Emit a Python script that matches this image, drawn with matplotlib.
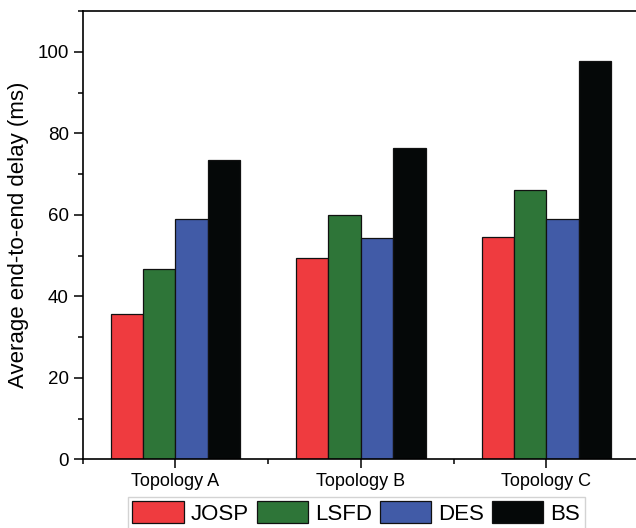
import matplotlib
matplotlib.use("Agg")
import matplotlib.pyplot as plt
import numpy as np

plt.rcParams['font.family'] = ['Liberation Sans', 'DejaVu Sans']

categories = ["Topology A", "Topology B", "Topology C"]
series_names = ["JOSP", "LSFD", "DES", "BS"]
josp = [35.6, 49.4, 54.5]
lsfd = [46.7, 60.0, 66.2]
des = [59.0, 54.3, 59.0]
bs = [73.5, 76.5, 97.7]
colors = ["#EF3B3F", "#2E7538", "#415BA7", "#050808"]

W, H = 636, 528
fig = plt.figure(figsize=(W/100, H/100), dpi=100)
unit_px = 185.5
left_px, top_px, bot_px = 82.7, 11, 459.3
right_px = left_px + 3 * unit_px
ax = fig.add_axes([left_px/W, 1-bot_px/H, (right_px-left_px)/W, (bot_px-top_px)/H])

x = np.arange(len(categories))
bw = 0.175
data = [josp, lsfd, des, bs]
for i, (name, vals, c) in enumerate(zip(series_names, data, colors)):
    ax.bar(x + (i-1.5)*bw, vals, bw, color=c, edgecolor='#111111', linewidth=0.9, label=name)

ax.set_xlim(-0.5, 2.5)
ax.set_ylim(0, 110)
ax.set_xticks(x)
ax.set_xticklabels(categories, fontsize=13)
ax.set_xticks([-0.5, 0.5, 1.5], minor=True)
ax.set_yticks(np.arange(0, 101, 20))
ax.set_yticks(np.arange(10, 111, 20), minor=True)
ax.tick_params(axis='both', which='major', direction='out', length=6.5, width=1.1, pad=3.5)
ax.tick_params(axis='x', which='major', labelsize=13)
ax.tick_params(axis='y', which='major', labelsize=13.5)
ax.tick_params(axis='both', which='minor', direction='out', length=3.5, width=1.1)
ax.spines['right'].set_visible(False)
for s in ['left', 'top', 'bottom']:
    ax.spines[s].set_linewidth(1.2)
ax.set_ylabel("Average end-to-end delay (ms)", fontsize=16, labelpad=6)

leg = fig.legend(loc='upper left', bbox_to_anchor=(128/W, 1-497/H), ncol=4, fontsize=16,
                 frameon=True, fancybox=False, edgecolor='#c8c8c8', handlelength=2.3,
                 handleheight=1.1, handletextpad=0.32, columnspacing=0.36, borderpad=0.2,
                 borderaxespad=0)
leg.get_frame().set_linewidth(1.0)

fig.savefig("out.png", dpi=100)
